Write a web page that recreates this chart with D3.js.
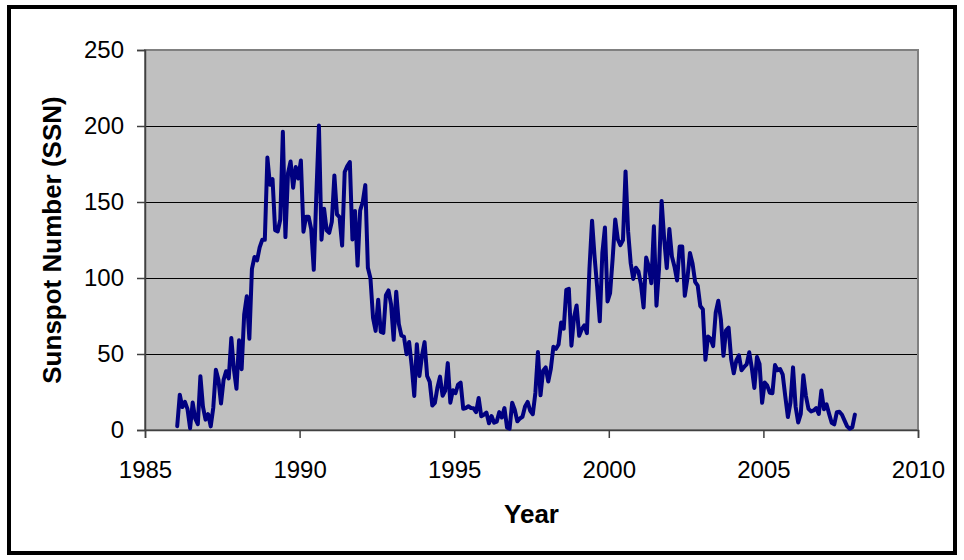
<!DOCTYPE html>
<html>
<head>
<meta charset="utf-8">
<script src="https://cdn.jsdelivr.net/npm/d3@7"></script>
<style>
  html, body { margin: 0; padding: 0; background: #fff; }
  svg { display: block; font-family: "Liberation Sans", Arial, sans-serif; }
</style>
</head>
<body>
<svg id="chart" width="964" height="560"></svg>
<script>
// Monthly sunspot numbers (Jan..Dec) per year
const ssn1986 = [2.5, 23.2, 15.1, 18.5, 13.7, 1.1, 18.1, 7.4, 3.8, 35.4, 15.2, 6.8];
const ssn1987 = [10.4, 2.4, 14.7, 39.6, 33.0, 17.4, 33.0, 38.7, 33.9, 60.6, 39.9, 27.1];
const ssn1988 = [59.0, 40.0, 76.2, 88.0, 60.1, 106.0, 113.8, 111.6, 120.1, 125.1, 125.1, 179.2];
const ssn1989 = [161.3, 165.1, 131.4, 130.6, 138.5, 196.2, 126.9, 168.9, 176.7, 159.4, 173.0, 165.5];
const ssn1990 = [177.3, 130.5, 140.3, 140.3, 132.2, 105.4, 155.0, 200.3, 125.2, 145.5, 131.4, 129.7];
const ssn1991 = [136.9, 167.5, 141.9, 140.0, 121.3, 169.7, 173.7, 176.3, 125.3, 144.1, 108.2, 144.4];
const ssn1992 = [150.0, 161.1, 106.7, 99.8, 73.8, 65.2, 85.7, 64.5, 63.9, 88.7, 91.8, 82.6];
const ssn1993 = [59.3, 91.0, 69.8, 62.2, 61.3, 49.8, 57.9, 42.3, 22.4, 56.4, 35.6, 48.9];
const ssn1994 = [57.8, 35.5, 31.7, 16.1, 17.8, 28.0, 35.1, 22.5, 25.7, 44.0, 18.0, 26.2];
const ssn1995 = [24.2, 29.9, 31.1, 14.0, 14.5, 15.6, 14.5, 14.3, 11.8, 21.1, 9.0, 10.0];
const ssn1996 = [11.5, 4.4, 9.2, 4.8, 5.5, 11.8, 8.2, 14.4, 1.6, 0.9, 17.9, 13.3];
const ssn1997 = [5.7, 7.6, 8.7, 15.5, 18.5, 12.7, 10.4, 24.4, 51.3, 22.8, 39.0, 41.2];
const ssn1998 = [31.9, 40.3, 54.8, 53.4, 56.3, 70.7, 66.6, 92.2, 92.9, 55.5, 74.0, 81.9];
const ssn1999 = [62.0, 66.3, 68.8, 63.7, 106.4, 137.7, 113.5, 93.7, 71.5, 116.7, 133.2, 84.6];
const ssn2000 = [90.1, 112.9, 138.5, 125.5, 121.6, 124.9, 170.1, 130.5, 109.7, 99.4, 106.8, 104.4];
const ssn2001 = [95.6, 80.6, 113.5, 107.7, 96.6, 134.0, 81.8, 106.4, 150.7, 125.5, 106.5, 132.2];
const ssn2002 = [114.1, 107.4, 98.4, 120.7, 120.8, 88.3, 99.6, 116.4, 109.6, 97.5, 95.0, 81.6];
const ssn2003 = [79.5, 46.2, 61.5, 60.0, 55.2, 77.4, 85.0, 72.7, 48.8, 65.5, 67.3, 46.5];
const ssn2004 = [37.3, 45.8, 49.1, 39.3, 41.5, 43.2, 51.1, 40.9, 27.7, 48.0, 43.5, 17.9];
const ssn2005 = [31.3, 29.2, 24.5, 24.2, 42.7, 39.3, 40.1, 36.4, 22.1, 8.5, 18.0, 41.2];
const ssn2006 = [15.3, 4.9, 10.6, 36.0, 22.3, 13.9, 12.2, 12.9, 14.4, 10.5, 26.0, 13.6];
const ssn2007 = [16.9, 10.6, 4.8, 3.7, 11.7, 12.0, 10.0, 6.2, 2.4, 0.9, 1.7, 10.1];

const years = [1986, 1987, 1988, 1989, 1990, 1991, 1992, 1993, 1994, 1995, 1996,
               1997, 1998, 1999, 2000, 2001, 2002, 2003, 2004, 2005, 2006, 2007];
const yearlyValues = [ssn1986, ssn1987, ssn1988, ssn1989, ssn1990, ssn1991, ssn1992,
  ssn1993, ssn1994, ssn1995, ssn1996, ssn1997, ssn1998, ssn1999, ssn2000, ssn2001,
  ssn2002, ssn2003, ssn2004, ssn2005, ssn2006, ssn2007];

const xTicks = [1985, 1990, 1995, 2000, 2005, 2010];
const yTicks = [0, 50, 100, 150, 200, 250];
const xTitle = "Year";
const yTitle = "Sunspot Number (SSN)";

const series = years.flatMap((y, i) =>
  yearlyValues[i].map((v, m) => ({ t: y + (m + 0.5) / 12, v })));

const svg = d3.select("#chart");
const L = 145, R = 918, T = 50, B = 430;

const x = d3.scaleLinear().domain([1985, 2010]).range([L, R]);
const y = d3.scaleLinear().domain([0, 250]).range([B, T]);

// outer frame
svg.append("rect").attr("x", 9).attr("y", 7).attr("width", 946).attr("height", 546)
  .attr("fill", "#fff").attr("stroke", "#000").attr("stroke-width", 4);

// plot area
svg.append("rect").attr("x", L).attr("y", T).attr("width", R - L).attr("height", B - T)
  .attr("fill", "#C0C0C0");

// gridlines
svg.append("g").selectAll("line")
  .data(yTicks.filter(d => d > 0 && d < 250))
  .join("line")
  .attr("x1", L).attr("x2", R)
  .attr("y1", d => y(d)).attr("y2", d => y(d))
  .attr("stroke", "#000").attr("stroke-width", 1).attr("shape-rendering", "crispEdges");

// plot border
svg.append("rect").attr("x", L).attr("y", T).attr("width", R - L).attr("height", B - T)
  .attr("fill", "none").attr("stroke", "#808080").attr("stroke-width", 1.5)
  .attr("shape-rendering", "crispEdges");

// axes
const yAxis = d3.axisLeft(y).tickValues(yTicks).tickSize(8).tickPadding(13).tickFormat(d3.format("d"));
const xAxis = d3.axisBottom(x).tickValues(xTicks).tickSize(8).tickPadding(23).tickFormat(d3.format("d"));

const gy = svg.append("g").attr("transform", `translate(${L},0)`).call(yAxis);
const gx = svg.append("g").attr("transform", `translate(0,${B})`).call(xAxis);

[gx, gy].forEach(g => {
  g.select(".domain").attr("stroke", "#404040").attr("stroke-width", 1.5);
  g.selectAll(".tick line").attr("stroke", "#404040").attr("stroke-width", 1.5);
  g.selectAll("text").attr("fill", "#000").attr("font-size", 24)
    .attr("font-family", "'Liberation Sans', Arial, sans-serif");
});

// data line
const line = d3.line().x(d => x(d.t)).y(d => y(d.v));
svg.append("path").datum(series)
  .attr("d", line)
  .attr("fill", "none")
  .attr("stroke", "#000080")
  .attr("stroke-width", 4)
  .attr("stroke-linejoin", "round")
  .attr("stroke-linecap", "round");

// titles
svg.append("text")
  .attr("x", (L + R) / 2).attr("y", 523)
  .attr("text-anchor", "middle")
  .attr("font-size", 26).attr("font-weight", "bold")
  .text(xTitle);

svg.append("text")
  .attr("transform", `translate(61,${(T + B) / 2}) rotate(-90)`)
  .attr("text-anchor", "middle")
  .attr("font-size", 26).attr("font-weight", "bold")
  .text(yTitle);
</script>
</body>
</html>
